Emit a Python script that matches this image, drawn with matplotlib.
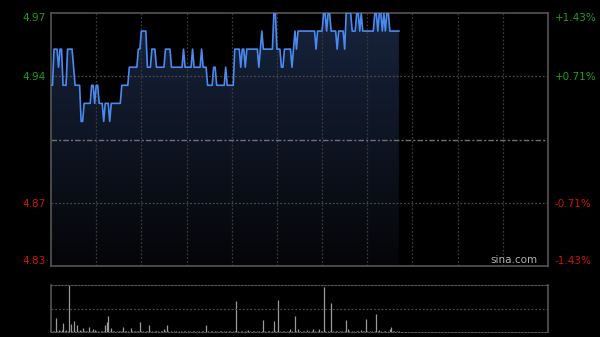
import numpy as np
import matplotlib
matplotlib.use("Agg")
import matplotlib.pyplot as plt

# prices, one per minute (HK session: 330 minutes)
prices = [
    4.93, 4.93, 4.95, 4.95, 4.95, 4.94, 4.95, 4.95, 4.93, 4.93, 4.93, 4.95, 4.95, 4.95, 4.95, 4.94, 4.93, 4.93, 4.93, 4.93,
    4.91, 4.91, 4.92, 4.92, 4.92, 4.92, 4.92, 4.93, 4.93, 4.92, 4.93, 4.93, 4.92, 4.92, 4.92, 4.91, 4.92, 4.92, 4.92, 4.91,
    4.92, 4.92, 4.92, 4.92, 4.92, 4.92, 4.92, 4.93, 4.93, 4.93, 4.93, 4.93, 4.94, 4.94, 4.94, 4.94, 4.94, 4.94, 4.95, 4.95,
    4.96, 4.96, 4.96, 4.96, 4.94, 4.94, 4.94, 4.95, 4.95, 4.95, 4.94, 4.94, 4.94, 4.94, 4.94, 4.94, 4.95, 4.95, 4.95, 4.95,
    4.94, 4.94, 4.94, 4.94, 4.94, 4.94, 4.94, 4.94, 4.95, 4.94, 4.94, 4.94, 4.94, 4.94, 4.95, 4.94, 4.94, 4.94, 4.94, 4.94,
    4.95, 4.94, 4.94, 4.94, 4.93, 4.93, 4.93, 4.93, 4.94, 4.94, 4.93, 4.93, 4.93, 4.93, 4.93, 4.93, 4.94, 4.93, 4.93, 4.93,
    4.93, 4.93, 4.95, 4.95, 4.95, 4.95, 4.94, 4.95, 4.95, 4.94, 4.95, 4.95, 4.95, 4.95, 4.95, 4.95, 4.95, 4.95, 4.94, 4.95,
    4.96, 4.95, 4.95, 4.95, 4.95, 4.95, 4.95, 4.95, 4.97, 4.97, 4.95, 4.95, 4.95, 4.94, 4.94, 4.95, 4.95, 4.95, 4.95, 4.95,
    4.94, 4.95, 4.96, 4.95, 4.96, 4.96, 4.96, 4.96, 4.96, 4.96, 4.96, 4.96, 4.96, 4.96, 4.96, 4.96, 4.95, 4.96, 4.96, 4.96,
    4.96, 4.97, 4.97, 4.96, 4.97, 4.97, 4.96, 4.96, 4.96, 4.96, 4.95, 4.96, 4.96, 4.96, 4.96, 4.95, 4.97, 4.97, 4.97, 4.97,
    4.96, 4.96, 4.96, 4.97, 4.97, 4.96, 4.97, 4.96, 4.96, 4.96, 4.96, 4.96, 4.96, 4.96, 4.96, 4.97, 4.97, 4.96, 4.97, 4.97,
    4.96, 4.97, 4.96, 4.97, 4.97, 4.96, 4.96, 4.96, 4.96, 4.96, 4.96, 4.96,
]

volumes = [
    1.5, 1, 1, 14, 1, 2, 1, 2, 9, 1, 2, 1, 47, 8, 1, 11, 1, 7, 1, 2,
    1, 4, 1, 1, 1, 5, 1, 1, 3, 2, 1, 1, 0.5, 1, 1, 1, 7, 10, 16, 1,
    4, 1, 1, 0.5, 1, 1, 1, 1, 5, 1, 1, 1, 0.5, 4, 1, 1, 1, 1, 1, 10,
    1, 1, 0.5, 1, 1, 7, 1, 1, 0.5, 1, 1, 1, 0.5, 1, 1, 3, 1, 7, 1, 0.5,
    1, 0.5, 1, 1, 0.5, 1, 1, 0.5, 1, 1, 0.5, 1, 1, 0.5, 1, 1, 0.5, 1, 1, 0.5,
    1, 1, 0.5, 7, 1, 0.5, 1, 1, 0.5, 1, 1.5, 0.5, 1, 1, 0.5, 1, 1.5, 0.5, 1, 1,
    0.5, 1, 1, 31, 1, 0.5, 1, 1, 0.5, 1, 1, 2, 1, 0.5, 1, 1, 0.5, 1, 1, 0.5,
    1, 12, 1, 0.5, 1, 1, 0.5, 1, 11, 1, 1, 32, 1, 0.5, 1, 1, 0.5, 1, 1, 3,
    1, 0.5, 16, 1, 3, 1, 0.5, 1, 1, 0.5, 2, 1, 0.5, 1, 3, 1, 0.5, 1, 3, 1,
    1, 45, 1, 0.5, 1, 1, 29, 1, 0.5, 1, 1, 0.5, 1, 1, 0.5, 1, 12, 3, 1, 0.5,
    1, 1, 0.5, 1, 1, 0.5, 2, 1, 1, 13, 1, 0.5, 1, 1, 0.5, 1, 18, 1, 2, 1,
    0.5, 1, 1, 0.5, 1, 3, 5, 1, 1, 0.5, 1, 1,
]

prev_close = 4.90
price_ticks = [4.83, 4.865, 4.935, 4.97]
price_labels = ["4.83", "4.87", "4.94", "4.97"]
pct_labels = ["-1.43%", "-0.71%", "+0.71%", "+1.43%"]
session_minutes = 330

GREEN = "#1aa01a"
RED = "#d01010"
FRAME = "#555555"
GRID = "#3a3a3a"

fig = plt.figure(figsize=(6, 3.37), dpi=100, facecolor="black")
ax = fig.add_axes([51 / 600, 1 - 266 / 337, 497 / 600, 253 / 337])
vax = fig.add_axes([51 / 600, 1 - 332 / 337, 497 / 600, 47 / 337])

x = np.arange(len(prices))
y = np.array(prices)
lo, hi = 4.83, 4.97

# price panel
ax.set_facecolor("black")
ax.set_xlim(0, session_minutes)
ax.set_ylim(lo, hi)

# gradient fill under the line
grad = np.linspace(0, 1, 256).reshape(-1, 1)
top_c = np.array([0.09, 0.14, 0.24])
bot_c = np.array([0.02, 0.02, 0.03])
img = bot_c + (top_c - bot_c) * grad
img = img.reshape(256, 1, 3)
im = ax.imshow(img, extent=[0, x[-1], lo, hi], origin="lower", aspect="auto", zorder=1)
poly = ax.fill_between(x, y, lo, color="none")
im.set_clip_path(poly.get_paths()[0], transform=ax.transData)

ax.plot(x, y, color="#4a8af0", lw=1.2, zorder=3)

for i in range(1, 11):
    ax.axvline(i * 30, color=GRID, lw=0.9, ls=(0, (1.5, 1.5)), zorder=2)
for t in [4.865, 4.935]:
    ax.axhline(t, color="#4a4a4a", lw=0.9, ls=(0, (1.5, 1.5)), zorder=2)
ax.axhline(prev_close, color="#707070", lw=1.0, ls=(0, (4, 1.5, 1.5, 1.5)), zorder=2)

for s in ax.spines.values():
    s.set_color(FRAME)
    s.set_linewidth(1.2)
ax.set_xticks([])
ax.set_yticks(price_ticks)
ax.set_yticklabels(price_labels)
ax.tick_params(axis="y", length=0, pad=4, labelsize=7.5)
for lab, t in zip(ax.get_yticklabels(), price_ticks):
    lab.set_color(GREEN if t > prev_close else RED)
ax.get_yticklabels()[0].set_va("bottom")
ax.get_yticklabels()[-1].set_va("top")

rax = ax.twinx()
rax.set_ylim(lo, hi)
rax.set_yticks(price_ticks)
rax.set_yticklabels(pct_labels)
rax.tick_params(axis="y", length=0, pad=5, labelsize=7.5)
for lab, t in zip(rax.get_yticklabels(), price_ticks):
    lab.set_color(GREEN if t > prev_close else RED)
rax.get_yticklabels()[0].set_va("bottom")
rax.get_yticklabels()[-1].set_va("top")
for s in rax.spines.values():
    s.set_visible(False)

ax.text(0.978, 0.005, "sina.com", transform=ax.transAxes, ha="right", va="bottom",
        color="#b0b0b0", fontsize=7.5, zorder=5)

# volume panel
vax.set_facecolor("black")
vax.set_xlim(0, session_minutes)
vax.set_ylim(0, 47)
vax.vlines(np.arange(len(volumes)), 0, volumes, color="#9a9a9a", lw=0.9)
vax.axhline(23.5, color="#4a4a4a", lw=0.9, ls=(0, (1.5, 1.5)))
vax.spines["left"].set_color(FRAME)
vax.spines["right"].set_color(FRAME)
vax.spines["left"].set_linewidth(1.2)
vax.spines["right"].set_linewidth(1.2)
vax.spines["top"].set_color("#555555")
vax.spines["top"].set_linestyle((0, (1.5, 1.5)))
vax.spines["bottom"].set_color("#555555")
vax.spines["bottom"].set_linestyle((0, (1.5, 1.5)))
vax.set_xticks([])
vax.set_yticks([])

fig.savefig("out.png", dpi=100, facecolor="black")
